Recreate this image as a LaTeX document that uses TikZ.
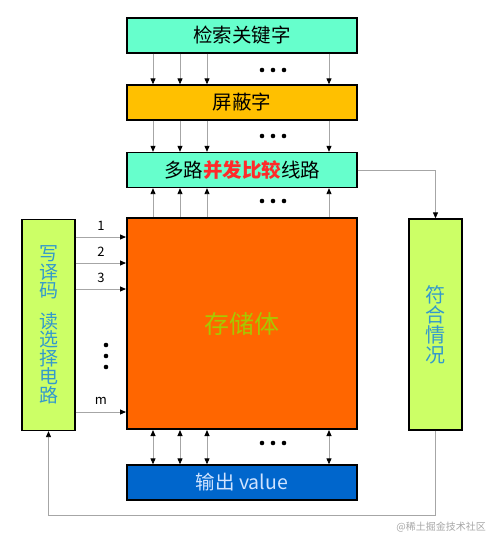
\documentclass[tikz,border=0pt]{standalone}
\usepackage{fontspec}
\setmainfont{Noto Sans CJK SC}
\setsansfont{Noto Sans CJK SC}
\usetikzlibrary{arrows.meta}
\definecolor{aqua}{HTML}{66FFCC}
\definecolor{gold}{HTML}{FFC000}
\definecolor{orng}{HTML}{FF6600}
\definecolor{blu}{HTML}{0066CC}
\definecolor{lime}{HTML}{CCFF66}
\definecolor{lnk}{HTML}{A6A6A6}
\definecolor{tblue}{HTML}{3399CC}
\definecolor{tgreen}{HTML}{A8C800}
\definecolor{tred}{HTML}{FF2A2A}
\definecolor{tout}{HTML}{D0E4FF}
\begin{document}
\begin{tikzpicture}[x=1pt,y=-1pt,
  box/.style={draw=black,line width=1.3pt,minimum width=230pt,minimum height=35pt,inner sep=0pt,font=\fontsize{19.5}{20}\selectfont},
  sidebox/.style={draw=black,line width=1.3pt,fill=lime,minimum width=53pt,minimum height=211pt,inner sep=0pt,text=tblue,align=center},
  link/.style={draw=lnk,line width=0.9pt,-{Triangle[length=6pt,width=5pt,color=black]}},
  dlink/.style={draw=lnk,line width=0.9pt,{Triangle[length=6pt,width=5pt,color=black]}-{Triangle[length=6pt,width=5pt,color=black]}},
  dot/.style={circle,fill=black,inner sep=0pt,minimum size=4.6pt},
  num/.style={font=\fontsize{13}{14}\selectfont,inner sep=0pt}]
\useasboundingbox (0,0) rectangle (488,536);
\node[box,fill=aqua] (key) at (242,35.5) {检索关键字};
\node[box,fill=gold] (mask) at (242,102.5) {屏蔽字};
\node[box,fill=aqua] (cmp) at (242,170) {多路\textcolor{tred}{\bfseries 并发比较}线路};
\node[draw=black,line width=2pt,fill=orng,minimum width=230pt,minimum height=211pt,inner sep=0pt,text=tgreen,font=\fontsize{25}{26}\selectfont] (mem) at (242,323.5) {存储体};
\node[box,fill=blu,text=tout] (out) at (242,482.5) {输出 value};
\node[sidebox,font=\fontsize{19}{18.5}\selectfont] (dec) at (48.5,325) {写\\译\\码\\[12pt]读\\选\\择\\电\\路};
\node[sidebox,font=\fontsize{20}{20}\selectfont] (res) at (435.5,324.5) {符\\合\\情\\况};
% columns
\foreach \x in {153,180,207,329}{
  \draw[link] (key.south -| \x,0) -- (mask.north -| \x,0);
  \draw[link] (mask.south -| \x,0) -- (cmp.north -| \x,0);
  \draw[link] (mem.north -| \x,0) -- (cmp.south -| \x,0);
  \draw[dlink] (mem.south -| \x,0) -- (out.north -| \x,0);
}
\foreach \y [count=\i] in {70,136,201,443}{
  \node[dot] (da\i) at (262,\y) {};
  \node[dot] (db\i) at (273,\y) {};
  \node[dot] (dc\i) at (284,\y) {};
}
% row lines
\foreach \y/\t in {237/1,263/2,289/3,412/m}{
  \draw[link] (dec.east |- 0,\y) -- (mem.west |- 0,\y);
  \node[num] at (101,\y-11) {\t};
}
\node[dot] (v1) at (106,345) {};
\node[dot] (v2) at (106,356) {};
\node[dot] (v3) at (106,367) {};
% right connection
\draw[link] (cmp.east) -| (res.north);
% feedback
\coordinate (fb1) at (435.5,515);
\coordinate (fb2) at (48.5,515);
\draw[link] (res.south) -- (fb1) -- (fb2) -- (dec.south);
\node[text=black!35,font=\fontsize{10}{10}\selectfont,anchor=east,inner sep=0pt] (wm) at (486,527) {@稀土掘金技术社区};
\end{tikzpicture}
\end{document}
